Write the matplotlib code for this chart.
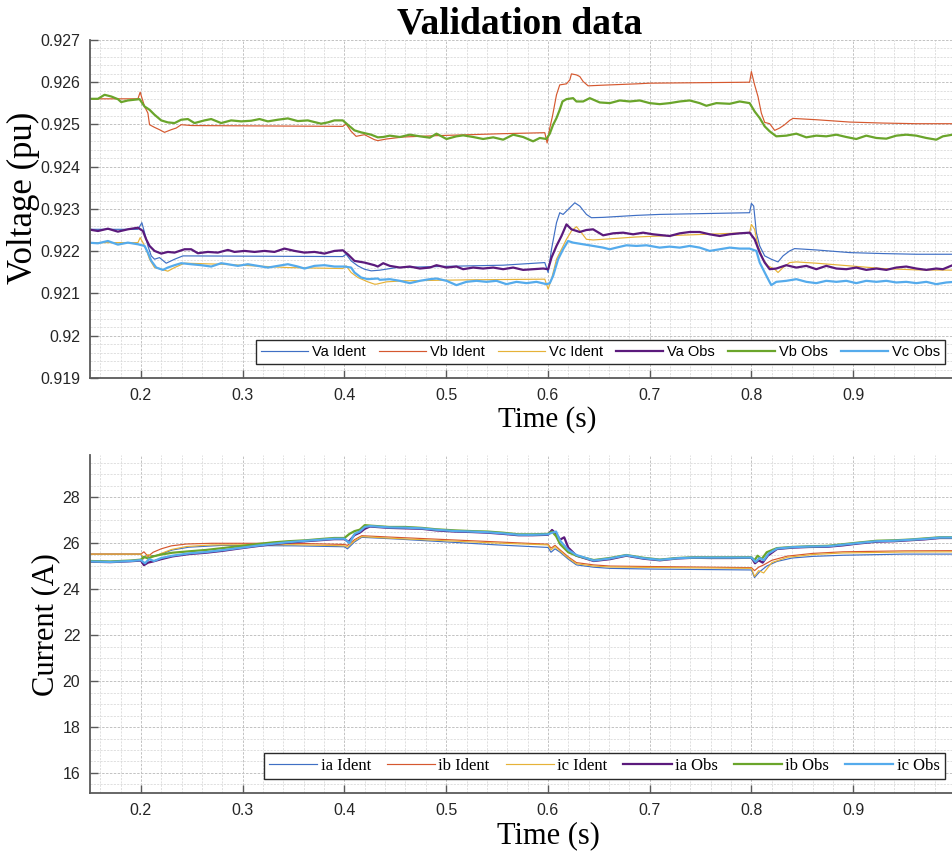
import numpy as np
import matplotlib
matplotlib.use('Agg')
import matplotlib.pyplot as plt
from matplotlib.ticker import MultipleLocator, FixedLocator, FuncFormatter

# ---------------- data (time s, value) ----------------
VA_IDENT = [(0.148,0.922519),(0.1971,0.922519),(0.2010,0.922676),(0.2036,0.922440),(0.2069,0.922126),
            (0.2102,0.921890),(0.2134,0.921811),(0.2183,0.921850),(0.2249,0.921717),(0.2331,0.921811),
            (0.2413,0.921890),(0.3984,0.921874),(0.4017,0.921929),(0.4066,0.921772),(0.4132,0.921654),
            (0.4197,0.921575),(0.4263,0.921536),(0.4348,0.921552),(0.4512,0.921614),(0.4905,0.921638),
            (0.5560,0.921670),(0.5969,0.921732),(0.6002,0.921497),(0.6035,0.922047),(0.6084,0.922676),
            (0.6116,0.922912),(0.6149,0.922872),(0.6182,0.922951),(0.6231,0.923069),(0.6264,0.923147),
            (0.6313,0.923069),(0.6378,0.922872),(0.6427,0.922794),(0.6542,0.922802),(0.6870,0.922849),
            (0.7099,0.922872),(0.7982,0.922912),(0.7999,0.923132),(0.8022,0.923069),(0.8048,0.922440),
            (0.8081,0.922126),(0.8130,0.921890),(0.8195,0.921811),(0.8261,0.921748),(0.8310,0.921890),
            (0.8375,0.922008),(0.8424,0.922063),(0.8637,0.922031),(0.8965,0.921968),(0.9292,0.921945),
            (0.9620,0.921929),(1.0,0.921929)]

VB_IDENT = [(0.148,0.925608),(0.1971,0.925608),(0.1993,0.925765),(0.2036,0.925427),(0.2069,0.925270),
            (0.2085,0.924995),(0.2134,0.924932),(0.2183,0.924877),(0.2232,0.924814),(0.2298,0.924877),
            (0.2347,0.924916),(0.2396,0.924995),(0.2500,0.924975),(0.3984,0.924956),(0.4017,0.925011),
            (0.4066,0.924838),(0.4115,0.924720),(0.4197,0.924759),(0.4295,0.924641),(0.4328,0.924618),
            (0.4414,0.924657),(0.4577,0.924704),(0.4905,0.924736),(0.5232,0.924759),(0.5560,0.924783),
            (0.5969,0.924806),(0.5992,0.924563),(0.6018,0.924916),(0.6044,0.925192),(0.6084,0.925703),
            (0.6116,0.925938),(0.6182,0.925962),(0.6215,0.926056),(0.6231,0.926198),(0.6280,0.926174),
            (0.6313,0.926135),(0.6346,0.926017),(0.6395,0.925915),(0.6542,0.925931),(0.6870,0.925962),
            (0.7000,0.925978),(0.7982,0.926001),(0.7999,0.926253),(0.8031,0.925938),(0.8064,0.925663),
            (0.8097,0.925270),(0.8130,0.925050),(0.8179,0.925019),(0.8228,0.924861),(0.8277,0.924916),
            (0.8326,0.924995),(0.8375,0.925097),(0.8408,0.925144),(0.8637,0.925113),(0.8965,0.925058),
            (0.9292,0.925034),(0.9620,0.925019),(1.0,0.925019)]

VC_IDENT = [(0.148,0.922204),(0.1971,0.922204),(0.1993,0.922322),(0.2020,0.922204),(0.2052,0.922047),
            (0.2085,0.921811),(0.2134,0.921614),(0.2200,0.921575),(0.2265,0.921528),(0.2331,0.921614),
            (0.2429,0.921717),(0.2789,0.921693),(0.3444,0.921614),(0.3984,0.921591),(0.4017,0.921654),
            (0.4066,0.921497),(0.4132,0.921379),(0.4230,0.921276),(0.4295,0.921221),(0.4315,0.921221),
            (0.4414,0.921276),(0.4577,0.921300),(0.5232,0.921324),(0.5969,0.921339),(0.6002,0.921104),
            (0.6035,0.921339),(0.6084,0.921811),(0.6133,0.922047),(0.6182,0.922283),(0.6231,0.922479),
            (0.6280,0.922581),(0.6329,0.922440),(0.6378,0.922283),(0.6444,0.922267),(0.6542,0.922283),
            (0.6870,0.922338),(0.7099,0.922361),(0.7982,0.922440),(0.7999,0.922636),(0.8031,0.922519),
            (0.8064,0.922126),(0.8113,0.921811),(0.8162,0.921654),(0.8228,0.921575),(0.8261,0.921497),
            (0.8310,0.921614),(0.8375,0.921732),(0.8441,0.921748),(0.8637,0.921717),(0.8965,0.921654),
            (0.9292,0.921591),(0.9620,0.921559),(1.0,0.921552)]

VA_OBS = [(0.1479,0.922519),(0.1578,0.922479),(0.1676,0.922534),(0.1774,0.922464),(0.1872,0.922519),
          (0.1971,0.922558),(0.2020,0.922479),(0.2052,0.922283),(0.2085,0.922126),(0.2134,0.922008),
          (0.2200,0.921945),(0.2265,0.921984),(0.2331,0.921968),(0.2429,0.922047),(0.2494,0.922047),
          (0.2560,0.921953),(0.2658,0.921984),(0.2756,0.921968),(0.2855,0.922031),(0.2920,0.921984),
          (0.3018,0.922008),(0.3117,0.921984),(0.3215,0.922008),(0.3313,0.921984),(0.3411,0.922063),
          (0.3510,0.922008),(0.3608,0.921968),(0.3706,0.921984),(0.3804,0.921945),(0.3902,0.922008),
          (0.3984,0.922023),(0.4033,0.921929),(0.4099,0.921772),(0.4197,0.921732),(0.4295,0.921670),
          (0.4328,0.921638),(0.4381,0.921717),(0.4446,0.921654),(0.4545,0.921614),(0.4643,0.921638),
          (0.4741,0.921591),(0.4839,0.921614),(0.4905,0.921670),(0.5003,0.921614),(0.5101,0.921638),
          (0.5167,0.921575),(0.5265,0.921614),(0.5363,0.921591),(0.5462,0.921614),(0.5560,0.921575),
          (0.5658,0.921614),(0.5756,0.921559),(0.5854,0.921575),(0.5953,0.921591),(0.6002,0.921575),
          (0.6035,0.921850),(0.6084,0.922126),(0.6133,0.922361),(0.6182,0.922636),(0.6231,0.922519),
          (0.6313,0.922456),(0.6378,0.922503),(0.6444,0.922519),(0.6542,0.922377),(0.6640,0.922424),
          (0.6739,0.922440),(0.6837,0.922401),(0.6935,0.922440),(0.7033,0.922401),(0.7196,0.922361),
          (0.7295,0.922424),(0.7393,0.922456),(0.7491,0.922456),(0.7589,0.922401),(0.7688,0.922361),
          (0.7786,0.922401),(0.7884,0.922424),(0.7982,0.922440),(0.8031,0.922283),(0.8081,0.921968),
          (0.8130,0.921732),(0.8179,0.921575),(0.8244,0.921591),(0.8342,0.921670),(0.8441,0.921614),
          (0.8539,0.921654),(0.8637,0.921575),(0.8735,0.921654),(0.8834,0.921591),(0.8932,0.921575),
          (0.9030,0.921614),(0.9128,0.921559),(0.9227,0.921591),(0.9325,0.921559),(0.9423,0.921614),
          (0.9521,0.921638),(0.9620,0.921591),(0.9718,0.921559),(0.9816,0.921591),(0.9881,0.921575),
          (0.9976,0.921670),(1.0,0.921670)]

VB_OBS = [(0.148,0.925608),(0.1578,0.925608),(0.1643,0.925703),(0.1709,0.925663),(0.1774,0.925600),
          (0.1807,0.925530),(0.1872,0.925569),(0.1987,0.925600),(0.2036,0.925427),(0.2085,0.925349),
          (0.2134,0.925231),(0.2200,0.925097),(0.2265,0.925050),(0.2331,0.925034),(0.2396,0.925113),
          (0.2462,0.925129),(0.2527,0.925034),(0.2625,0.925097),(0.2691,0.925129),(0.2789,0.925034),
          (0.2887,0.925097),(0.2986,0.925074),(0.3084,0.925089),(0.3166,0.925129),(0.3248,0.925074),
          (0.3346,0.925113),(0.3444,0.925144),(0.3542,0.925081),(0.3640,0.925097),(0.3771,0.925019),
          (0.3837,0.925050),(0.3902,0.925097),(0.3984,0.925097),(0.4033,0.924995),(0.4099,0.924861),
          (0.4164,0.924814),(0.4263,0.924759),(0.4328,0.924696),(0.4381,0.924704),(0.4446,0.924736),
          (0.4545,0.924704),(0.4643,0.924759),(0.4741,0.924720),(0.4839,0.924688),(0.4905,0.924783),
          (0.5003,0.924657),(0.5101,0.924720),(0.5167,0.924743),(0.5265,0.924704),(0.5363,0.924657),
          (0.5462,0.924696),(0.5560,0.924641),(0.5658,0.924759),(0.5756,0.924704),(0.5854,0.924602),
          (0.5920,0.924681),(0.5985,0.924657),(0.6018,0.924783),(0.6051,0.924995),(0.6084,0.925152),
          (0.6116,0.925349),(0.6143,0.925545),(0.6182,0.925600),(0.6247,0.925624),(0.6280,0.925545),
          (0.6346,0.925545),(0.6411,0.925624),(0.6509,0.925522),(0.6608,0.925506),(0.6706,0.925569),
          (0.6804,0.925545),(0.6902,0.925569),(0.7000,0.925506),(0.7098,0.925482),(0.7196,0.925506),
          (0.7295,0.925545),(0.7393,0.925569),(0.7491,0.925506),(0.7557,0.925443),(0.7655,0.925506),
          (0.7786,0.925490),(0.7884,0.925545),(0.7982,0.925506),(0.8031,0.925309),(0.8081,0.925152),
          (0.8130,0.924956),(0.8179,0.924838),(0.8244,0.924720),(0.8342,0.924736),(0.8441,0.924783),
          (0.8539,0.924696),(0.8637,0.924736),(0.8735,0.924720),(0.8834,0.924759),(0.8932,0.924704),
          (0.9030,0.924657),(0.9128,0.924736),(0.9227,0.924681),(0.9325,0.924665),(0.9423,0.924736),
          (0.9521,0.924759),(0.9620,0.924736),(0.9718,0.924681),(0.9816,0.924641),(0.9881,0.924720),
          (0.9976,0.924759),(1.0,0.924759)]

VC_OBS = [(0.1479,0.922204),(0.1578,0.922188),(0.1676,0.922243),(0.1774,0.922157),(0.1872,0.922204),
          (0.1971,0.922165),(0.2036,0.922126),(0.2069,0.921968),(0.2102,0.921772),(0.2151,0.921614),
          (0.2216,0.921559),(0.2265,0.921614),(0.2331,0.921670),(0.2396,0.921717),(0.2494,0.921693),
          (0.2593,0.921670),(0.2691,0.921638),(0.2789,0.921717),(0.2855,0.921693),(0.2953,0.921654),
          (0.3051,0.921693),(0.3149,0.921654),(0.3248,0.921614),(0.3346,0.921654),(0.3444,0.921693),
          (0.3542,0.921638),(0.3608,0.921591),(0.3706,0.921654),(0.3804,0.921670),(0.3902,0.921638),
          (0.4001,0.921638),(0.4066,0.921614),(0.4099,0.921497),(0.4164,0.921379),(0.4230,0.921339),
          (0.4328,0.921355),(0.4348,0.921324),(0.4446,0.921339),(0.4545,0.921300),(0.4643,0.921245),
          (0.4741,0.921300),(0.4839,0.921339),(0.4905,0.921355),(0.5003,0.921300),(0.5101,0.921198),
          (0.5199,0.921276),(0.5298,0.921300),(0.5396,0.921276),(0.5494,0.921300),(0.5592,0.921221),
          (0.5691,0.921276),(0.5789,0.921245),(0.5887,0.921276),(0.5985,0.921221),(0.6018,0.921245),
          (0.6051,0.921418),(0.6100,0.921811),(0.6149,0.922047),(0.6198,0.922243),(0.6247,0.922204),
          (0.6346,0.922165),(0.6444,0.922126),(0.6542,0.922086),(0.6608,0.922047),(0.6673,0.922086),
          (0.6771,0.922141),(0.6870,0.922126),(0.6968,0.922141),(0.7098,0.922086),(0.7196,0.922110),
          (0.7295,0.922086),(0.7393,0.922126),(0.7491,0.922086),(0.7589,0.922008),(0.7688,0.922047),
          (0.7786,0.922086),(0.7884,0.922063),(0.7982,0.922063),(0.8048,0.922008),(0.8081,0.921732),
          (0.8130,0.921497),(0.8172,0.921300),(0.8195,0.921198),(0.8244,0.921276),(0.8342,0.921300),
          (0.8441,0.921339),(0.8539,0.921276),(0.8637,0.921245),(0.8735,0.921300),(0.8834,0.921276),
          (0.8932,0.921300),(0.9030,0.921245),(0.9128,0.921300),(0.9227,0.921276),(0.9325,0.921300),
          (0.9423,0.921261),(0.9521,0.921276),(0.9620,0.921245),(0.9718,0.921276),(0.9816,0.921221),
          (0.9914,0.921261),(1.0,0.921276)]

IA_IDENT = [(0.15,25.52),(0.2,25.52),(0.202,25.30),(0.205,25.45),(0.215,25.45),(0.231,25.70),
            (0.247,25.82),(0.28,25.90),(0.35,25.88),(0.40,25.84),(0.403,25.75),(0.41,26.05),
            (0.417,26.25),(0.45,26.18),(0.5,26.05),(0.55,25.92),(0.6,25.81),(0.603,25.60),
            (0.607,25.75),(0.612,25.60),(0.62,25.30),(0.628,25.05),(0.645,24.95),(0.661,24.90),
            (0.7,24.87),(0.8,24.83),(0.803,24.50),(0.808,24.75),(0.815,25.00),(0.825,25.20),
            (0.84,25.35),(0.86,25.42),(0.89,25.47),(0.95,25.52),(1.0,25.52)]

IB_IDENT = [(0.15,25.52),(0.2,25.52),(0.203,25.62),(0.207,25.42),(0.212,25.60),(0.22,25.75),
            (0.23,25.88),(0.245,25.96),(0.27,25.99),(0.35,25.99),(0.40,25.94),(0.403,25.90),
            (0.41,26.15),(0.417,26.32),(0.45,26.25),(0.5,26.15),(0.55,26.05),(0.6,25.95),
            (0.603,25.78),(0.607,25.90),(0.612,25.70),(0.62,25.40),(0.628,25.15),(0.645,25.05),
            (0.661,25.00),(0.7,24.98),(0.8,24.93),(0.803,24.80),(0.807,24.95),(0.812,25.05),
            (0.82,25.25),(0.835,25.43),(0.86,25.55),(0.89,25.62),(0.95,25.66),(1.0,25.67)]

IC_IDENT = [(0.15,25.52),(0.2,25.52),(0.203,25.35),(0.207,25.50),(0.212,25.40),(0.22,25.55),
            (0.23,25.72),(0.245,25.85),(0.27,25.92),(0.35,25.93),(0.40,25.88),(0.403,25.82),
            (0.41,26.10),(0.417,26.28),(0.45,26.20),(0.5,26.10),(0.55,26.00),(0.6,25.92),
            (0.603,25.70),(0.607,25.85),(0.612,25.65),(0.62,25.35),(0.628,25.10),(0.645,25.00),
            (0.661,24.96),(0.7,24.94),(0.8,24.90),(0.803,24.55),(0.807,24.80),(0.812,24.70),
            (0.82,25.15),(0.835,25.38),(0.86,25.50),(0.89,25.57),(0.95,25.61),(1.0,25.62)]

IA_OBS = [(0.15,25.19),(0.17,25.17),(0.19,25.21),(0.2,25.24),(0.203,25.04),(0.207,25.15),(0.212,25.20),
          (0.22,25.30),(0.231,25.42),(0.247,25.52),(0.264,25.58),(0.28,25.66),(0.296,25.76),(0.313,25.86),
          (0.33,25.95),(0.345,26.02),(0.362,26.08),(0.378,26.13),(0.39,26.17),(0.40,26.17),(0.404,26.05),
          (0.41,26.35),(0.415,26.45),(0.42,26.62),(0.425,26.72),(0.444,26.66),(0.46,26.64),(0.476,26.62),
          (0.49,26.55),(0.509,26.50),(0.525,26.48),(0.541,26.45),(0.556,26.40),(0.571,26.34),(0.585,26.34),
          (0.6,26.36),(0.604,26.57),(0.608,26.40),(0.612,26.15),(0.616,26.25),(0.62,25.80),(0.628,25.45),
          (0.645,25.22),(0.661,25.30),(0.677,25.45),(0.694,25.32),(0.71,25.25),(0.727,25.33),(0.743,25.36),
          (0.76,25.35),(0.78,25.35),(0.8,25.36),(0.8035,25.12),(0.807,25.25),(0.811,25.15),(0.816,25.45),
          (0.825,25.74),(0.84,25.80),(0.857,25.83),(0.875,25.84),(0.89,25.90),(0.905,25.98),(0.923,26.06),
          (0.94,26.08),(0.955,26.12),(0.97,26.16),(0.985,26.22),(1.0,26.22)]

IB_OBS = [(0.15,25.22),(0.17,25.20),(0.19,25.24),(0.2,25.28),(0.203,25.40),(0.207,25.33),(0.212,25.42),
          (0.22,25.50),(0.231,25.58),(0.247,25.64),(0.264,25.70),(0.28,25.78),(0.296,25.86),(0.313,25.95),
          (0.33,26.03),(0.345,26.08),(0.362,26.12),(0.378,26.18),(0.39,26.22),(0.40,26.22),(0.405,26.40),
          (0.41,26.52),(0.415,26.58),(0.42,26.78),(0.425,26.76),(0.444,26.70),(0.46,26.70),(0.476,26.66),
          (0.49,26.60),(0.509,26.55),(0.525,26.52),(0.541,26.50),(0.556,26.45),(0.571,26.38),(0.585,26.38),
          (0.6,26.40),(0.604,26.50),(0.608,26.30),(0.612,25.95),(0.62,25.60),(0.628,25.45),(0.645,25.26),
          (0.661,25.35),(0.677,25.48),(0.694,25.36),(0.71,25.28),(0.727,25.35),(0.743,25.38),(0.76,25.38),
          (0.78,25.38),(0.8,25.38),(0.803,25.25),(0.806,25.45),(0.81,25.30),(0.815,25.60),(0.825,25.78),
          (0.84,25.83),(0.857,25.86),(0.875,25.88),(0.89,25.95),(0.905,26.02),(0.923,26.10),(0.94,26.12),
          (0.955,26.15),(0.97,26.20),(0.985,26.25),(1.0,26.25)]

IC_OBS = [(0.15,25.20),(0.17,25.18),(0.19,25.22),(0.2,25.26),(0.204,25.12),(0.208,25.30),(0.213,25.22),
          (0.22,25.35),(0.231,25.45),(0.247,25.55),(0.264,25.61),(0.28,25.69),(0.296,25.78),(0.313,25.88),
          (0.33,25.97),(0.345,26.04),(0.362,26.10),(0.378,26.15),(0.39,26.19),(0.40,26.19),(0.405,26.00),
          (0.41,26.40),(0.415,26.50),(0.42,26.70),(0.425,26.74),(0.444,26.68),(0.46,26.67),(0.476,26.64),
          (0.49,26.58),(0.509,26.52),(0.525,26.50),(0.541,26.47),(0.556,26.42),(0.571,26.36),(0.585,26.36),
          (0.6,26.38),(0.604,26.45),(0.608,26.50),(0.612,26.10),(0.62,25.70),(0.628,25.48),(0.645,25.24),
          (0.661,25.33),(0.677,25.47),(0.694,25.34),(0.71,25.27),(0.727,25.34),(0.743,25.37),(0.76,25.37),
          (0.78,25.37),(0.8,25.37),(0.804,25.18),(0.808,25.35),(0.812,25.25),(0.817,25.55),(0.825,25.76),
          (0.84,25.82),(0.857,25.85),(0.875,25.86),(0.89,25.93),(0.905,26.00),(0.923,26.08),(0.94,26.10),
          (0.955,26.14),(0.97,26.18),(0.985,26.24),(1.0,26.24)]

V_LABELS = ['Va Ident', 'Vb Ident', 'Vc Ident', 'Va Obs', 'Vb Obs', 'Vc Obs']
I_LABELS = ['ia Ident', 'ib Ident', 'ic Ident', 'ia Obs', 'ib Obs', 'ic Obs']
X_TICKS = [0.2, 0.3, 0.4, 0.5, 0.6, 0.7, 0.8, 0.9]
V_TICKS = [0.919, 0.920, 0.921, 0.922, 0.923, 0.924, 0.925, 0.926, 0.927]
I_TICKS = [16, 18, 20, 22, 24, 26, 28]

# ---------------- style ----------------
COLORS = ['#3f6fc4', '#d5582f', '#e6b238', '#5b1a7c', '#6aa52b', '#55abec']
WIDTHS = [0.85, 0.85, 0.85, 1.6, 1.6, 1.6]
SERIF = ['Liberation Serif', 'DejaVu Serif']
SANS = ['Liberation Sans', 'DejaVu Sans']

W, H = 953, 858
fig = plt.figure(figsize=(W / 100, H / 100), dpi=100)
ax1 = fig.add_axes([90 / W, 1 - 378 / H, 865 / W, 338 / H])
ax2 = fig.add_axes([90 / W, 1 - 793 / H, 865 / W, 338 / H])

fmt = FuncFormatter(lambda v, p: ('%g' % round(v, 4)))


def style(ax, yticks, yminor, ylim):
    ax.set_xlim(0.15, 1.0)
    ax.set_ylim(*ylim)
    ax.xaxis.set_major_locator(FixedLocator(X_TICKS))
    ax.xaxis.set_minor_locator(MultipleLocator(0.02))
    ax.yaxis.set_major_locator(FixedLocator(yticks))
    ax.yaxis.set_minor_locator(MultipleLocator(yminor))
    ax.xaxis.set_major_formatter(fmt)
    ax.yaxis.set_major_formatter(fmt)
    ax.grid(which='major', color='#c2c2c2', linestyle=(0, (2.5, 1.5)), linewidth=0.7)
    ax.grid(which='minor', color='#dadada', linestyle=(0, (2.5, 1.5)), linewidth=0.6)
    ax.set_axisbelow(True)
    for s in ('top', 'right'):
        ax.spines[s].set_visible(False)
    for s in ('left', 'bottom'):
        ax.spines[s].set_color('#5a5a5a')
        ax.spines[s].set_linewidth(1.3)
    ax.tick_params(which='major', direction='in', length=6, width=1.0,
                   color='#5a5a5a', labelcolor='#262626', labelsize=11.5, pad=7)
    ax.tick_params(which='minor', length=0)
    for lab in ax.get_xticklabels() + ax.get_yticklabels():
        lab.set_family(SANS)


# ---------------- top: voltage ----------------
for data, c, lw, lab in zip([VA_IDENT, VB_IDENT, VC_IDENT, VA_OBS, VB_OBS, VC_OBS],
                            COLORS, WIDTHS, V_LABELS):
    t, v = np.array(data).T
    ax1.plot(t, v, color=c, lw=lw, label=lab)
style(ax1, V_TICKS, 0.0002, (0.919, 0.927))
leg1 = ax1.legend(loc='lower right', bbox_to_anchor=(0.989, 0.041), ncol=6,
                  prop={'family': SANS, 'size': 10.5}, frameon=True, fancybox=False,
                  edgecolor='#2a2a2a', framealpha=1, borderaxespad=0, handlelength=3.2,
                  handletextpad=0.3, columnspacing=0.9, borderpad=0.35)
leg1.get_frame().set_linewidth(1.0)

# ---------------- bottom: current ----------------
for data, c, lw, lab in zip([IA_IDENT, IB_IDENT, IC_IDENT, IA_OBS, IB_OBS, IC_OBS],
                            COLORS, WIDTHS, I_LABELS):
    t, v = np.array(data).T
    ax2.plot(t, v, color=c, lw=lw, label=lab)
style(ax2, I_TICKS, 0.5, (15.13, 29.83))
leg2 = ax2.legend(loc='lower right', bbox_to_anchor=(0.988, 0.041), ncol=6,
                  prop={'family': SERIF, 'size': 12}, frameon=True, fancybox=False,
                  edgecolor='#2a2a2a', framealpha=1, borderaxespad=0, handlelength=2.9,
                  handletextpad=0.2, columnspacing=0.95, borderpad=0.3)
leg2.get_frame().set_linewidth(1.0)

# ---------------- texts ----------------
fig.text(520 / W, 1 - 24 / H, 'Validation data', ha='center', va='center',
         family=SERIF, weight='bold', size=27)
fig.text(547 / W, 1 - 420 / H, 'Time (s)', ha='center', va='center', family=SERIF, size=21)
fig.text(548 / W, 1 - 836 / H, 'Time (s)', ha='center', va='center', family=SERIF, size=22)
fig.text(23 / W, 1 - 198 / H, 'Voltage (pu)', ha='center', va='center', rotation=90,
         family=SERIF, size=25)
fig.text(46 / W, 1 - 625 / H, 'Current (A)', ha='center', va='center', rotation=90,
         family=SERIF, size=22)

fig.savefig('out.png', dpi=100)
